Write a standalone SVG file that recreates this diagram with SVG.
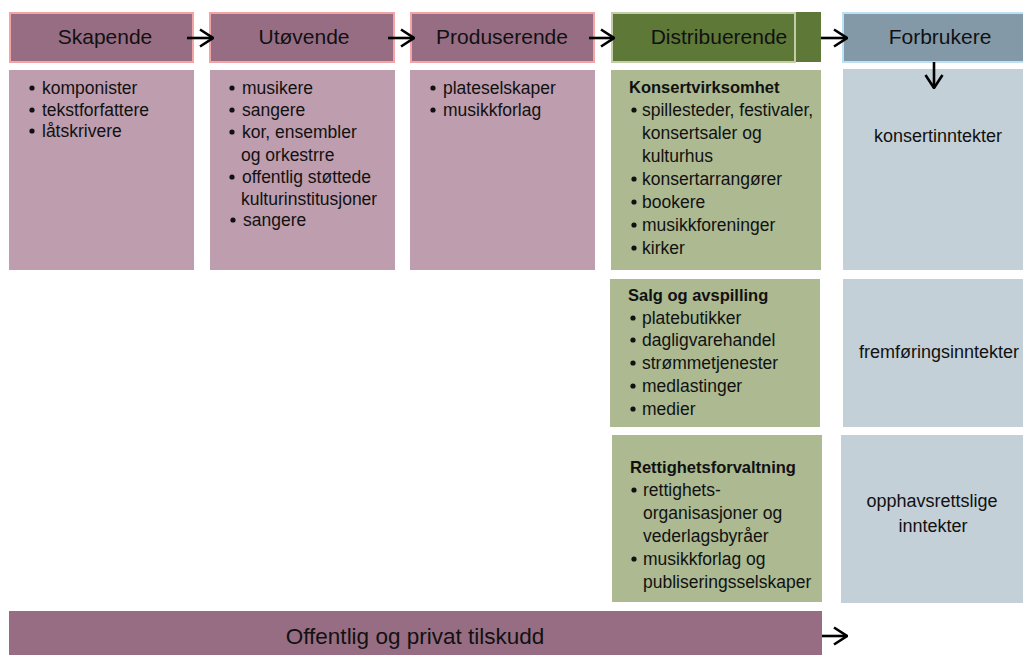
<svg xmlns="http://www.w3.org/2000/svg" width="1023" height="655" viewBox="0 0 1023 655">
  <style>
    text { font-family: "Liberation Sans", Arial, sans-serif; fill: #111; }
    .head { font-size: 21px; text-anchor: middle; }
    .body { font-size: 17.5px; }
    .bold { font-size: 16.5px; font-weight: bold; }
    .mid { font-size: 18px; text-anchor: middle; }
    .hp { fill: #976D84; stroke: #F4A4A4; stroke-width: 2; }
    .cp { fill: #BE9DAE; }
    .hg { fill: #5E7838; }
    .hgb { fill: #5E7838; stroke: #C3CDAA; stroke-width: 2; }
    .cg { fill: #ACB991; }
    .hb { fill: #8399A8; stroke: #BEE0F4; stroke-width: 2; }
    .cb { fill: #C3D0D8; }
    .conn { stroke: #000; stroke-width: 2.6; fill: none; }
    .dot { fill: #111; }
  </style>
  <defs>
    <marker id="open" viewBox="0 0 16 20" refX="15" refY="10" markerWidth="16" markerHeight="20" markerUnits="userSpaceOnUse" orient="auto">
      <path d="M2,1.5 L15,10 L2,18.5" fill="none" stroke="#000" stroke-width="2.6"/>
    </marker>
  </defs>

  <!-- Skapende -->
  <g id="skapende">
    <rect class="hp" x="10" y="13" width="183" height="49"/>
    <text class="head" x="105" y="44">Skapende</text>
    <rect class="cp" x="9" y="70" width="185" height="200"/>
    <circle class="dot" cx="32" cy="88" r="2.6"/>
    <circle class="dot" cx="32" cy="110" r="2.6"/>
    <circle class="dot" cx="32" cy="131" r="2.6"/>
    <text class="body" x="42" y="94">komponister</text>
    <text class="body" x="42" y="116">tekstforfattere</text>
    <text class="body" x="42" y="137">låtskrivere</text>
  </g>

  <!-- Utøvende -->
  <g id="utovende">
    <rect class="hp" x="210" y="13" width="184" height="49"/>
    <text class="head" x="304" y="44">Utøvende</text>
    <rect class="cp" x="210" y="70" width="185" height="200"/>
    <circle class="dot" cx="232" cy="88" r="2.6"/>
    <circle class="dot" cx="232" cy="110" r="2.6"/>
    <circle class="dot" cx="232" cy="132" r="2.6"/>
    <circle class="dot" cx="232" cy="177" r="2.6"/>
    <circle class="dot" cx="233" cy="220" r="2.6"/>
    <text class="body" x="242" y="94">musikere</text>
    <text class="body" x="242" y="116">sangere</text>
    <text class="body" x="242" y="138">kor, ensembler</text>
    <text class="body" x="241" y="161">og orkestrre</text>
    <text class="body" x="242" y="183">offentlig støttede</text>
    <text class="body" x="241" y="205">kulturinstitusjoner</text>
    <text class="body" x="243" y="226">sangere</text>
  </g>

  <!-- Produserende -->
  <g id="produserende">
    <rect class="hp" x="411" y="13" width="183" height="49"/>
    <text class="head" x="502" y="44">Produserende</text>
    <rect class="cp" x="410" y="70" width="185" height="200"/>
    <circle class="dot" cx="433" cy="88" r="2.6"/>
    <circle class="dot" cx="433" cy="110" r="2.6"/>
    <text class="body" x="443" y="94">plateselskaper</text>
    <text class="body" x="443" y="116">musikkforlag</text>
  </g>

  <!-- Distribuerende -->
  <g id="distribuerende">
    <rect class="hg" x="611" y="12" width="210" height="50"/>
    <rect class="hgb" x="612" y="13" width="183" height="49"/>
    <text class="head" x="719" y="44">Distribuerende</text>
  </g>

  <g id="konsertvirksomhet">
    <rect class="cg" x="611" y="70" width="210" height="200"/>
    <text class="bold" x="629" y="93">Konsertvirksomhet</text>
    <circle class="dot" cx="634" cy="110" r="2.6"/>
    <circle class="dot" cx="634" cy="179" r="2.6"/>
    <circle class="dot" cx="634" cy="202" r="2.6"/>
    <circle class="dot" cx="634" cy="225" r="2.6"/>
    <circle class="dot" cx="634" cy="248" r="2.6"/>
    <text class="body" x="642" y="116">spillesteder, festivaler,</text>
    <text class="body" x="642" y="139">konsertsaler og</text>
    <text class="body" x="642" y="162">kulturhus</text>
    <text class="body" x="642" y="185">konsertarrangører</text>
    <text class="body" x="642" y="208">bookere</text>
    <text class="body" x="642" y="231">musikkforeninger</text>
    <text class="body" x="642" y="254">kirker</text>
  </g>

  <g id="salg">
    <rect class="cg" x="610" y="279" width="210" height="148"/>
    <text class="bold" x="628" y="301">Salg og avspilling</text>
    <circle class="dot" cx="633" cy="318" r="2.6"/>
    <circle class="dot" cx="633" cy="340" r="2.6"/>
    <circle class="dot" cx="633" cy="363" r="2.6"/>
    <circle class="dot" cx="633" cy="386" r="2.6"/>
    <circle class="dot" cx="633" cy="409" r="2.6"/>
    <text class="body" x="642" y="324">platebutikker</text>
    <text class="body" x="642" y="346">dagligvarehandel</text>
    <text class="body" x="642" y="369">strømmetjenester</text>
    <text class="body" x="642" y="392">medlastinger</text>
    <text class="body" x="642" y="415">medier</text>
  </g>

  <g id="rettigheter">
    <rect class="cg" x="612" y="435" width="210" height="167"/>
    <text class="bold" x="630" y="473">Rettighetsforvaltning</text>
    <circle class="dot" cx="634" cy="490" r="2.6"/>
    <circle class="dot" cx="634" cy="559" r="2.6"/>
    <text class="body" x="643" y="496">rettighets-</text>
    <text class="body" x="643" y="519">organisasjoner og</text>
    <text class="body" x="643" y="542">vederlagsbyråer</text>
    <text class="body" x="643" y="565">musikkforlag og</text>
    <text class="body" x="643" y="588">publiseringsselskaper</text>
  </g>

  <!-- Forbrukere -->
  <g id="forbrukere">
    <rect class="hb" x="843" y="13" width="190" height="49"/>
    <text class="head" x="940" y="44">Forbrukere</text>
  </g>

  <g id="konsertinntekter">
    <rect class="cb" x="843" y="69" width="180" height="201"/>
    <text class="mid" x="938" y="142">konsertinntekter</text>
  </g>

  <g id="fremforingsinntekter">
    <rect class="cb" x="843" y="279" width="180" height="148"/>
    <text class="mid" x="939" y="358">fremføringsinntekter</text>
  </g>

  <g id="opphavsrettslige">
    <rect class="cb" x="841" y="435" width="182" height="168"/>
    <text class="mid" x="932" y="507">opphavsrettslige</text>
    <text class="mid" x="933" y="532">inntekter</text>
  </g>

  <!-- Tilskudd -->
  <g id="tilskudd">
    <rect fill="#976D84" x="9" y="611" width="813" height="44"/>
    <text class="head" x="415" y="644" style="font-size:22.5px">Offentlig og privat tilskudd</text>
  </g>

  <!-- Connectors -->
  <g id="connectors">
    <path class="conn" d="M187,38 H213" marker-end="url(#open)"/>
    <path class="conn" d="M388,38 H414" marker-end="url(#open)"/>
    <path class="conn" d="M589,38 H614" marker-end="url(#open)"/>
    <path class="conn" d="M821,38 H847" marker-end="url(#open)"/>
    <path class="conn" d="M934,62 V88" marker-end="url(#open)"/>
    <path class="conn" d="M822,636 H847" marker-end="url(#open)"/>
  </g>
</svg>
